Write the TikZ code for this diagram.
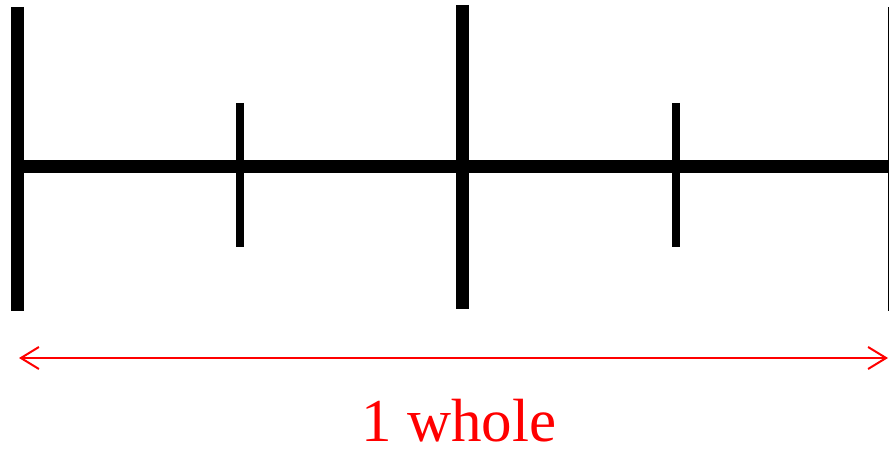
\documentclass[tikz,border=0pt]{standalone}
\usepackage{fontspec}
\setmainfont{Liberation Serif}
\usetikzlibrary{arrows.meta}
\begin{document}
\begin{tikzpicture}[x=1pt,y=-1pt,
  bigtick/.style={line width=13pt},
  smalltick/.style={line width=8pt},
  axisline/.style={line width=13pt},
  measure/.style={red,line width=2pt,{Straight Barb[length=18pt,width=22pt]}-{Straight Barb[length=18pt,width=22pt]}}]
\useasboundingbox (0,0) rectangle (889,449);
% tick coordinates
\coordinate (L1) at (17.5,7);   \coordinate (L2) at (17.5,311);
\coordinate (M1) at (462,5);    \coordinate (M2) at (462,309);
\coordinate (R1) at (894,7);    \coordinate (R2) at (894,311);
\coordinate (S1) at (240,103);  \coordinate (S2) at (240,247);
\coordinate (T1) at (676,103);  \coordinate (T2) at (676,247);
\coordinate (A1) at (11,167);   \coordinate (A2) at (900,167);
% axis
\draw[axisline] (A1) -- (A2);
\draw[bigtick] (L1) -- (L2);
\draw[bigtick] (M1) -- (M2);
\draw[bigtick] (R1) -- (R2);
\draw[smalltick] (S1) -- (S2);
\draw[smalltick] (T1) -- (T2);
% measure arrow
\coordinate (W1) at (19,358);
\coordinate (W2) at (888,358);
\draw[measure] (W1) -- (W2);
\node[red,anchor=base,inner sep=0pt,text depth=0pt,font=\fontsize{61}{72}\selectfont] (lbl) at (459,441) {1 whole};
\end{tikzpicture}
\end{document}
